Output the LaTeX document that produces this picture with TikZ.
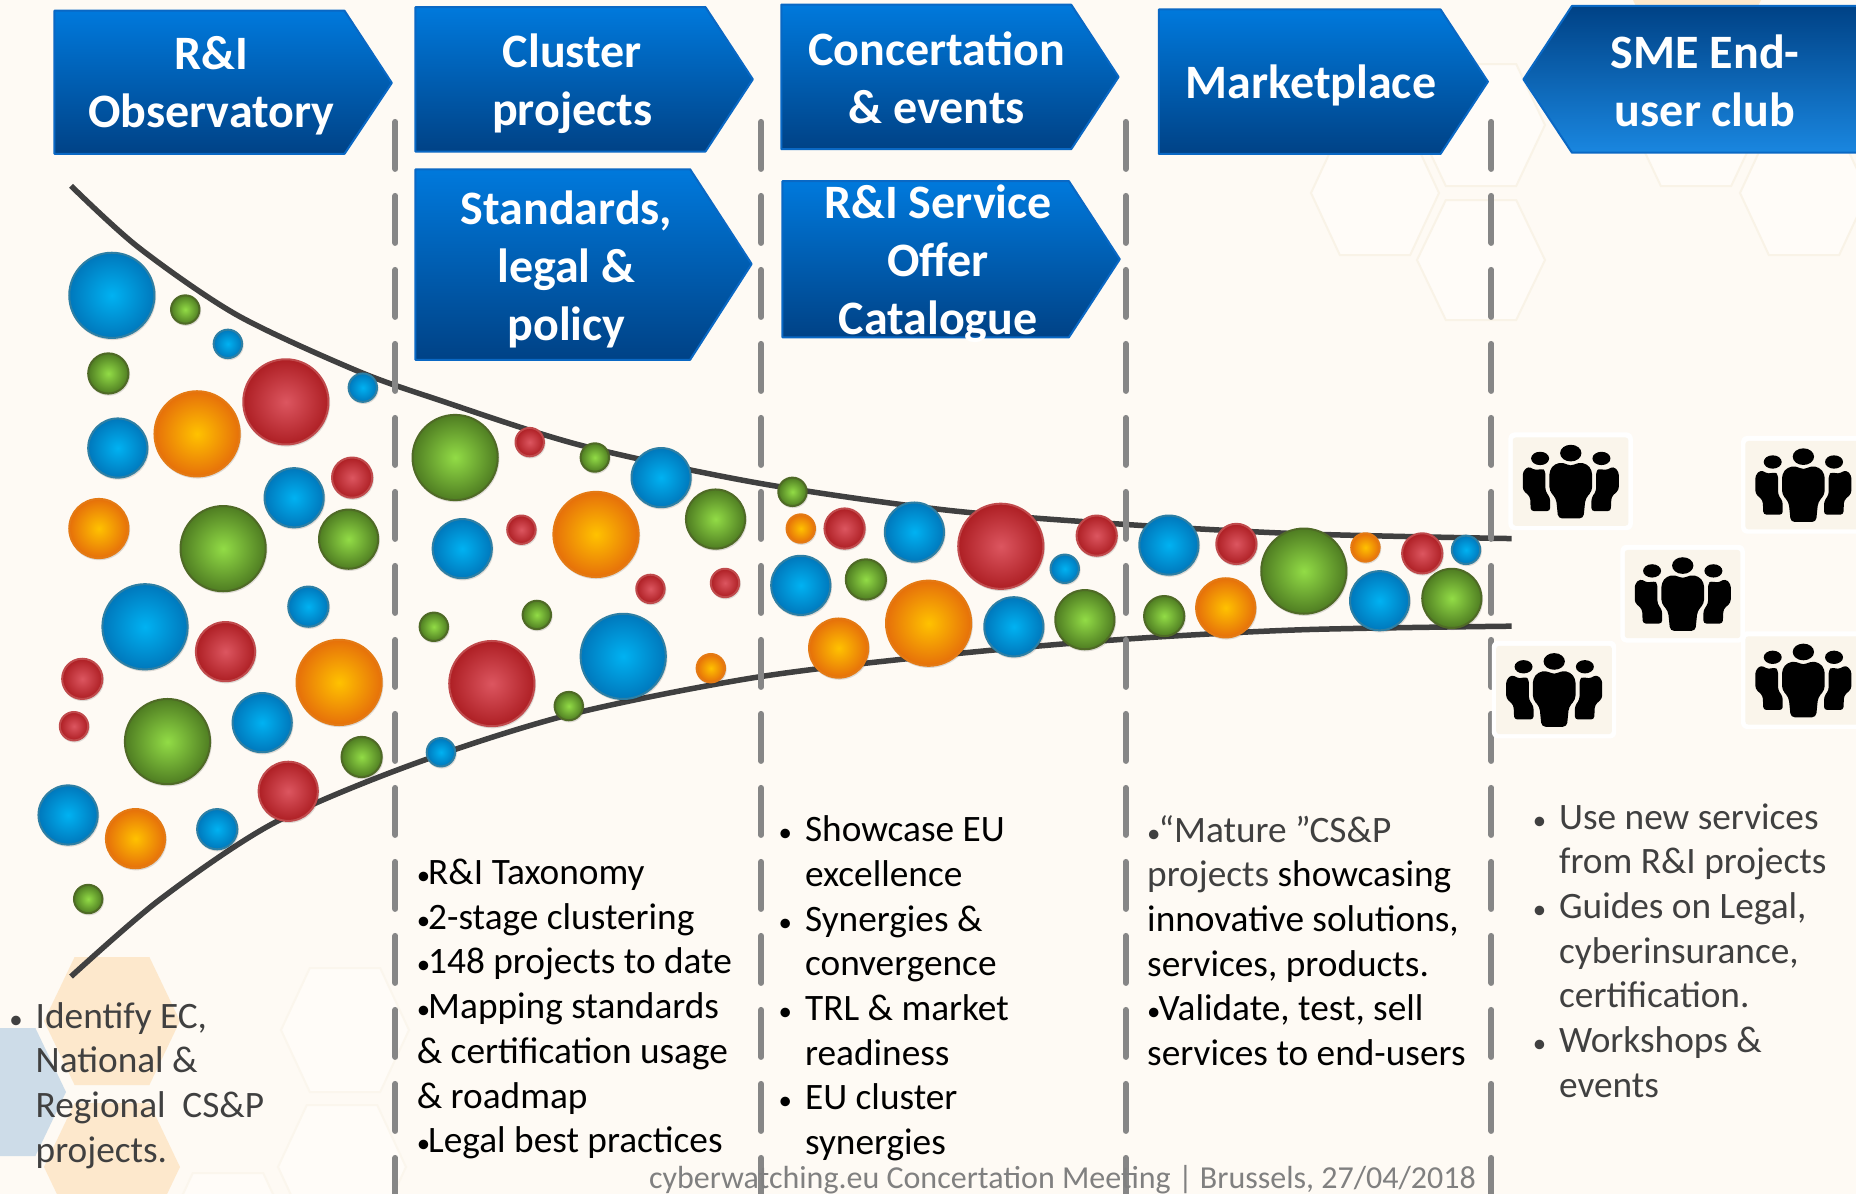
\documentclass[tikz,border=0pt]{standalone}
\usepackage{fontspec}
\setmainfont{Carlito}
\definecolor{bgc}{HTML}{FEFAF4}
\definecolor{hexl}{HTML}{F9F3E7}
\definecolor{hexf}{HTML}{FFFCF8}
\definecolor{hexo}{HTML}{FDE8CC}
\definecolor{hexb}{HTML}{CDDCE8}
\definecolor{bt}{HTML}{0079DC}
\definecolor{bm}{HTML}{0060B4}
\definecolor{bb}{HTML}{004286}
\definecolor{bd}{HTML}{0A68C4}
\definecolor{tdark}{HTML}{404040}
\definecolor{c1}{HTML}{00B2F2}\definecolor{e1}{HTML}{0078BC}\definecolor{k1}{HTML}{2E7FA4}
\definecolor{c2}{HTML}{92DC46}\definecolor{e2}{HTML}{4F7D22}\definecolor{k2}{HTML}{4F6A26}
\definecolor{c3}{HTML}{DC5660}\definecolor{e3}{HTML}{AE1F24}\definecolor{k3}{HTML}{C04A4C}
\definecolor{c4}{HTML}{FFC200}\definecolor{e4}{HTML}{E6700A}\definecolor{k4}{HTML}{E47A14}
\pgfdeclareradialshading{sblue}{\pgfpoint{0bp}{0bp}}{color(0bp)=(c1);color(25bp)=(e1);color(50bp)=(e1)}
\pgfdeclareradialshading{sgreen}{\pgfpoint{0bp}{0bp}}{color(0bp)=(c2);color(25bp)=(e2);color(50bp)=(e2)}
\pgfdeclareradialshading{sred}{\pgfpoint{0bp}{0bp}}{color(0bp)=(c3);color(25bp)=(e3);color(50bp)=(e3)}
\pgfdeclareradialshading{sorange}{\pgfpoint{0bp}{0bp}}{color(0bp)=(c4);color(25bp)=(e4);color(50bp)=(e4)}
\newcommand\hexa[5]{\path[#5] (#1pt-#3pt,-#2pt) -- (#1pt-0.55*#3pt,-#2pt+#4pt) -- (#1pt+0.55*#3pt,-#2pt+#4pt) -- (#1pt+#3pt,-#2pt) -- (#1pt+0.55*#3pt,-#2pt-#4pt) -- (#1pt-0.55*#3pt,-#2pt-#4pt) -- cycle;}
\newcommand\ballB[3]{\fill[black,opacity=.13] (#1+1.1,#2+1.5) circle (#3+0.8);\path[shading=sblue,draw=k1,line width=2pt] (#1+0.5,#2+0.5) circle (#3);}
\newcommand\ballG[3]{\fill[black,opacity=.13] (#1+1.1,#2+1.5) circle (#3+0.8);\path[shading=sgreen,draw=k2,line width=2pt] (#1+0.5,#2+0.5) circle (#3);}
\newcommand\ballR[3]{\fill[black,opacity=.13] (#1+1.1,#2+1.5) circle (#3+0.8);\path[shading=sred,draw=k3,line width=2pt] (#1+0.5,#2+0.5) circle (#3);}
\newcommand\ballO[3]{\fill[black,opacity=.13] (#1+1.1,#2+1.5) circle (#3+0.8);\path[shading=sorange,draw=k4,line width=2pt] (#1+0.5,#2+0.5) circle (#3);}
\newcommand\dotb{\scalebox{0.72}{•}}
\newcommand\dotn{\dotb\hspace{-2pt}}
\newcommand\bul{\makebox[0pt][r]{\dotb\hspace{13pt}}}
\tikzset{
 arrowbox/.style={top color=bt,middle color=bm,bottom color=bb,draw=bd,line width=2pt,line join=round},
 arrowflip/.style={top color=bb,middle color=bm,bottom color=bt!90!white,draw=bd,line width=2pt,line join=round},
 boxtext/.style={font=\fontsize{48}{58}\selectfont\bfseries,text=white,align=center,inner sep=0pt},
 separator/.style={draw=gray!95,line width=6pt,line cap=round,dash pattern=on 47pt off 27pt},
 funnel/.style={draw=tdark,line width=5.5pt},
 bodytext/.style={font=\fontsize{37.3}{44.7}\selectfont,align=left,inner sep=0pt,anchor=west},
 hexfaint/.style={draw=hexl,fill=hexf,line width=2pt},
 hexpale/.style={draw=hexl!50!bgc,fill=hexf,line width=2pt},
 crowd/.pic={
  \begin{scope}[x=0.3333pt,y=-0.3333pt]
  \fill[white,rounded corners=6pt] (-187,-148) rectangle (186,145);
  \fill[fill=hexl!70!bgc,rounded corners=3pt] (-174,-133) rectangle (173,132);
  \fill[black] (0,-86) ellipse (32 and 25);
  \fill[black] (-92,-70) ellipse (27 and 20);
  \fill[black] (92,-70) ellipse (27 and 20);
  \fill[black,rounded corners=4pt] (0,-46) -- (-22,-58) -- (-48,-54) -- (-64,-34) -- (-64,28) -- (-44,50) -- (-38,110) -- (38,110) -- (44,50) -- (64,28) -- (64,-34) -- (48,-54) -- (22,-58) -- cycle;
  \fill[black,rounded corners=3pt] (-128,-46) -- (-144,-30) -- (-144,25) -- (-122,45) -- (-120,88) -- (-62,88) -- (-62,48) -- (-76,28) -- (-76,-32) -- (-86,-40) -- (-104,-34) -- cycle;
  \fill[black,rounded corners=3pt] (128,-46) -- (144,-30) -- (144,25) -- (122,45) -- (120,88) -- (62,88) -- (62,48) -- (76,28) -- (76,-32) -- (86,-40) -- (104,-34) -- cycle;
  \end{scope}
 }
}
\begin{document}
\begin{tikzpicture}[x=1.1837pt,y=-1.1837pt]
\clip (0pt,0pt) rectangle (1856pt,-1194pt);
\fill[bgc] (0pt,0pt) rectangle (1856pt,-1194pt);
% hexagons
\hexa{1375}{193}{64}{62}{hexfaint}
\hexa{1481}{125}{64}{61}{hexfaint}
\hexa{1481}{260}{64}{60}{hexfaint}
\hexa{1696}{125}{64}{61}{hexfaint}
\hexa{1804}{193}{64}{62}{hexfaint}
\hexa{1697}{0}{64}{60}{fill=hexo}
\hexa{345}{1030}{64}{62}{hexpale}
\hexa{342}{1167}{64}{62}{hexpale}
\hexa{228}{1235}{64}{62}{hexpale}
\hexa{112}{1021}{68}{64}{fill=hexo}
\hexa{112}{1167}{68}{64}{fill=hexo}
\hexa{-2}{1092}{68}{64}{fill=hexb}
% arrows
\path[arrowbox] (46,9) -- (291,9) -- (331,70) -- (291,130) -- (46,130) -- cycle;
\path[arrowbox] (351,6) -- (596,6) -- (636,67) -- (596,128) -- (351,128) -- cycle;
\path[arrowbox] (660,4) -- (905,4) -- (945,65) -- (905,126) -- (660,126) -- cycle;
\path[arrowbox] (979,8) -- (1217,8) -- (1257,69) -- (1217,130) -- (979,130) -- cycle;
\path[arrowflip] (1600,5) -- (1328,5) -- (1287,67) -- (1328,129) -- (1600,129) -- cycle;
\path[arrowbox] (351,143) -- (583,143) -- (635,223) -- (583,304) -- (351,304) -- cycle;
\path[arrowbox] (661,153) -- (903,153) -- (946,219) -- (903,285) -- (661,285) -- cycle;
\node[boxtext] (obs) at (178.5,72.5) {R\&I\\Observatory};
\node[boxtext] (clu) at (483.5,70.5) {Cluster\\projects};
\node[boxtext] (con) at (791.5,66) {Concertation\\\& events};
\node[boxtext] (mkt) at (1107.5,72.5) {Marketplace};
\node[boxtext] (sme) at (1440.5,68) {SME End-\\user club};
\node[boxtext] (std) at (478.5,227.5) {Standards,\\legal \&\\policy};
\node[boxtext] (svc) at (792.5,222.5) {R\&I Service\\Offer\\Catalogue};
% funnel
\draw[funnel] plot[smooth,tension=0.5] coordinates {(60,157) (117,209) (200,266) (301,313) (371,338) (490,376) (640,408) (800,431) (950,443) (1100,451) (1277,455)};
\draw[funnel] plot[smooth,tension=0.5] coordinates {(60,825) (135,760) (230,696) (345,647) (480,604) (640,572) (800,553) (950,540) (1100,532) (1277,529)};
% separators
\foreach \sx in {334,643,951,1260} \draw[separator] (\sx,103) -- (\sx,1020);
% balls
\ballB{94}{249}{36}\ballG{156}{261}{12}\ballB{192}{290}{12}\ballG{91}{315}{17}\ballR{241}{339}{36}\ballB{306}{327}{12}
\ballB{99}{378}{25}\ballO{166}{366}{36}\ballR{297}{403}{17}\ballB{248}{420}{25}\ballO{83}{446}{25}\ballG{188}{463}{36}
\ballG{294}{455}{25}\ballB{260}{512}{17}\ballB{122}{529}{36}\ballR{190}{550}{25}\ballO{286}{576}{36}\ballR{69}{573}{17}
\ballR{62}{613}{12}\ballB{221}{610}{25}\ballG{141}{626}{36}\ballG{305}{639}{17}\ballR{243}{668}{25}\ballB{57}{688}{25}
\ballO{114}{708}{25}\ballB{183}{700}{17}\ballG{74}{759}{12}
\ballG{384}{386}{36}\ballR{447}{373}{12}\ballG{502}{386}{12}\ballB{558}{403}{25}\ballG{604}{438}{25}\ballB{390}{463}{25}
\ballR{440}{447}{12}\ballO{503}{451}{36}\ballR{549}{497}{12}\ballR{612}{492}{12}\ballG{366}{529}{12}\ballG{453}{519}{12}
\ballB{526}{554}{36}\ballR{415}{577}{36}\ballO{600}{564}{12}\ballG{480}{596}{12}\ballB{372}{635}{12}
\ballG{669}{415}{12}\ballO{676}{446}{12}\ballR{713}{446}{17}\ballB{772}{449}{25}\ballR{845}{461}{36}\ballR{926}{452}{17}
\ballB{899}{480}{12}\ballB{676}{494}{25}\ballG{731}{489}{17}\ballO{784}{526}{36}\ballB{856}{529}{25}\ballG{916}{523}{25}\ballO{708}{547}{25}
\ballB{987}{460}{25}\ballR{1044}{459}{17}\ballG{1101}{482}{36}\ballO{1153}{462}{12}\ballR{1201}{467}{17}\ballB{1238}{464}{12}
\ballG{983}{520}{17}\ballO{1035}{513}{25}\ballB{1165}{507}{25}\ballG{1226}{505}{25}
% people
\pic at (1327,407) {crowd};
\pic at (1523.5,410) {crowd};
\pic at (1421.6,502) {crowd};
\pic at (1313,583) {crowd};
\pic at (1523.5,575) {crowd};
% text
\node[bodytext,text=tdark] (t1) at (30,917) {\bul Identify EC,\\National \&\\Regional\ \ CS\&P\\projects.};
\node[bodytext,text=black] (t2) at (352,852.5) {\dotn R\&I Taxonomy\\\dotn 2-stage clustering\\\dotn 148 projects to date\\\dotn Mapping standards\\\& certification usage\\\& roadmap\\\dotn Legal best practices};
\node[bodytext,text=black] (t3) at (680,835) {\bul Showcase EU\\excellence\\\bul Synergies \&\\convergence\\\bul TRL \& market\\readiness\\\bul EU cluster\\synergies};
\node[bodytext,text=black] (t4) at (969,794.5) {{\color{tdark}\dotn “Mature ”CS\&P}\\{\color{tdark}projects} showcasing\\innovative solutions,\\services, products.\\\dotn Validate, test, sell\\services to end-users};
\node[bodytext,text=tdark] (t5) at (1317,803) {\bul Use new services\\from R\&I projects\\\bul Guides on Legal,\\cyberinsurance,\\certification.\\\bul Workshops \&\\events};
\node[anchor=east,inner sep=0pt,text=gray,font=\fontsize{32}{38}\selectfont] (foot) at (1247,996.5) {cyberwatching.eu Concertation Meeting | Brussels, 27/04/2018};
\end{tikzpicture}
\end{document}
